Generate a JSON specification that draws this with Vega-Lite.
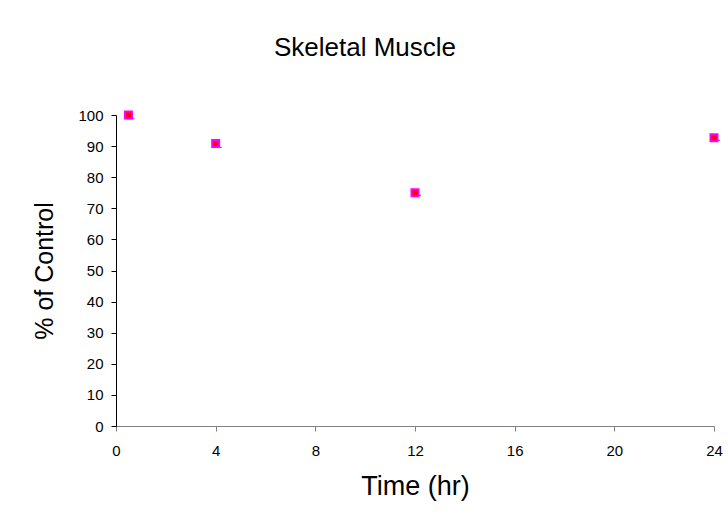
{
  "$schema": "https://vega.github.io/schema/vega-lite/v6.json",
  "width": 598,
  "height": 311,
  "autosize": {"type": "none"},
  "padding": {"left": 116, "top": 115, "right": 14, "bottom": 101},
  "background": "white",
  "config": {
    "font": "Liberation Sans",
    "view": {"stroke": null},
    "axis": {"grid": false, "labelFont": "Liberation Sans", "titleFont": "Liberation Sans", "labelColor": "black", "titleColor": "black", "titleFontWeight": "normal", "labelOverlap": false, "labelFontSize": 15, "titleFontSize": 25, "tickSize": 5, "labelFlush": false},
    "axisX": {"domainColor": "#808080", "tickColor": "#808080", "labelPadding": 12, "titlePadding": 15, "titleFontSize": 27},
    "axisY": {"domainColor": "black", "tickColor": "black", "labelPadding": 8, "titlePadding": 20}
  },
  "title": {
    "text": "Skeletal Muscle",
    "font": "Liberation Sans",
    "fontSize": 26,
    "fontWeight": "normal",
    "anchor": "middle",
    "dx": -50,
    "offset": 47,
    "color": "black"
  },
  "data": {
    "values": [
      {"time": 0.5, "pct": 100, "lo": 98.8, "hi": 101},
      {"time": 4, "pct": 90.8, "lo": 89.6, "hi": 91.8},
      {"time": 12, "pct": 75, "lo": 74.2, "hi": 75.8},
      {"time": 24, "pct": 92.7, "lo": 91.9, "hi": 93.5}
    ]
  },
  "encoding": {
    "x": {
      "field": "time", "type": "quantitative",
      "scale": {"domain": [0, 24], "nice": false, "zero": true},
      "axis": {"values": [0, 4, 8, 12, 16, 20, 24], "tickCount": 7, "title": "Time (hr)"}
    }
  },
  "layer": [
    {
      "mark": {"type": "rule", "color": "black", "strokeWidth": 1},
      "encoding": {
        "y": {
          "field": "lo", "type": "quantitative",
          "scale": {"domain": [0, 100], "nice": false},
          "axis": {"values": [0, 10, 20, 30, 40, 50, 60, 70, 80, 90, 100], "tickCount": 11, "title": "% of Control"}
        },
        "y2": {"field": "hi"}
      }
    },
    {
      "mark": {"type": "tick", "orient": "horizontal", "color": "black", "size": 8, "thickness": 1, "xOffset": 2},
      "encoding": {
        "y": {"field": "lo", "type": "quantitative"}
      }
    },
    {
      "mark": {"type": "point", "shape": "square", "filled": false, "fill": "#FF0000", "fillOpacity": 1, "stroke": "#FF00FF", "strokeWidth": 2, "size": 49, "opacity": 1},
      "encoding": {
        "y": {"field": "pct", "type": "quantitative"}
      }
    }
  ]
}
